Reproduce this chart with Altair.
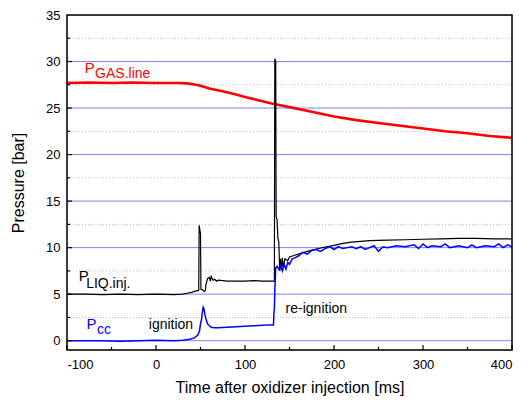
import altair as alt
import pandas as pd

# ---- data ----
gas_t = [-100, -75, -50, -25, 0, 25, 35, 45, 50, 60, 75, 90, 100, 115, 130, 150, 175, 200, 225, 250, 275, 300, 325, 350, 375, 400]
gas_v = [27.7, 27.75, 27.7, 27.75, 27.7, 27.7, 27.65, 27.5, 27.4, 27.1, 26.8, 26.45, 26.2, 25.85, 25.5, 25.1, 24.6, 24.1, 23.7, 23.4, 23.1, 22.8, 22.5, 22.3, 22.0, 21.8]

liq_t = [-100, -80, -60, -40, -20, 0, 20, 30, 35, 40, 45, 48, 48.5, 50, 50.5, 52, 54, 55.5, 56, 58, 60, 61, 62, 64, 66, 68, 70, 80, 90, 100, 110, 120, 132, 133, 133.5, 134.5, 135, 136, 137, 138, 139, 140, 141, 142, 143, 145, 148, 150, 155, 160, 170, 180, 190, 200, 210, 220, 240, 260, 280, 300, 320, 340, 360, 380, 400]
liq_v = [5.0, 5.0, 4.95, 5.0, 4.95, 5.0, 4.95, 5.0, 5.1, 5.2, 5.35, 5.4, 12.4, 11.5, 5.5, 5.5, 5.3, 5.4, 6.0, 6.7, 6.8, 6.4, 6.9, 6.5, 6.6, 6.4, 6.5, 6.4, 6.4, 6.4, 6.45, 6.4, 6.4, 6.4, 30.3, 30.0, 13.3, 13.0, 11.0, 10.6, 7.5, 8.8, 7.6, 8.9, 7.9, 8.8, 8.6, 9.0, 9.15, 9.3, 9.6, 9.85, 10.05, 10.25, 10.45, 10.6, 10.75, 10.8, 10.85, 10.9, 10.95, 11.0, 11.0, 10.95, 10.95]

cc_t = [-100, -80, -60, -40, -20, 0, 20, 30, 38, 43, 47, 49, 50, 51, 52, 53, 54, 55, 56, 57, 58, 60, 62, 65, 70, 80, 90, 100, 110, 120, 130, 132, 132.5, 133, 133.5, 134, 134.5, 136, 138, 140, 142, 144, 146, 148, 150, 153, 156, 160, 165, 170, 175, 180, 185, 190, 195, 200, 205, 210, 215, 220, 225, 230, 235, 240, 245, 250, 255, 260, 270, 280, 290, 295, 300, 305, 310, 320, 325, 330, 340, 350, 355, 360, 370, 380, 385, 390, 395, 400]
cc_v = [0.0, 0.0, 0.0, -0.05, 0.0, 0.05, 0.0, 0.05, 0.15, 0.3, 0.6, 1.1, 1.8, 2.2, 3.0, 3.6, 3.4, 2.8, 2.4, 2.1, 1.8, 1.6, 1.45, 1.4, 1.4, 1.45, 1.5, 1.55, 1.6, 1.65, 1.7, 1.7, 3.0, 3.3, 5.5, 6.5, 7.8, 8.0, 7.7, 8.1, 7.5, 8.2, 7.7, 8.4, 8.2, 8.8, 8.9, 9.1, 9.5, 9.3, 9.7, 9.8, 9.6, 9.9, 10.1, 9.8, 10.1, 9.9, 10.0, 10.1, 9.9, 10.1, 9.8, 10.0, 10.2, 9.6, 10.1, 10.0, 10.2, 10.1, 10.3, 9.9, 10.4, 10.0, 10.2, 10.1, 10.4, 10.0, 10.2, 10.0, 10.3, 10.0, 10.2, 10.1, 10.4, 10.0, 10.3, 10.1]

label_y = [0, 5, 10, 15, 20, 25, 30, 35]
major_y = [0, 5, 10, 15, 20, 25, 30]
minor_y = [2.5, 7.5, 12.5, 17.5, 22.5, 27.5, 32.5]
major_x = [-100, 0, 100, 200, 300, 400]
minor_x = [-50, 50, 150, 250, 350]

# annotations: x, y (baseline), text, size, colour
ann_x = [-80.1, -68.4, -86.8, -78.5, -78.2, -66.4, -8.1, 145.6]
ann_y = [28.76, 28.2, 6.45, 5.66, 1.25, 0.71, 1.25, 2.93]
ann_text = ["P", "GAS.line", "P", "LIQ.inj.", "P", "cc", "ignition", "re-ignition"]
ann_size = [15, 14, 15, 14, 15, 14, 14, 14]
ann_color = ["#ff0000", "#ff0000", "#000000", "#000000", "#0000ff", "#0000ff", "#000000", "#000000"]

# ---- build tables ----
def series(t, v):
    return pd.DataFrame({"t": t, "v": v, "i": range(len(t))})

gas = series(gas_t, gas_v)
liq = series(liq_t, liq_v)
cc = series(cc_t, cc_v)
ann = pd.DataFrame({"x": ann_x, "y": ann_y, "text": ann_text, "size": ann_size, "color": ann_color})

W, H = 445, 335
xs = alt.Scale(domain=[-100, 400], nice=False, zero=False)
ys = alt.Scale(domain=[-1, 35], nice=False, zero=False)

x_axis = alt.Axis(values=major_x, grid=False, ticks=False, domain=False, labelFontSize=13,
                  labelPadding=8, title="Time after oxidizer injection [ms]", titleFontSize=16,
                  titleFontWeight="normal", titlePadding=8, labelFont="Liberation Sans",
                  titleFont="Liberation Sans", labelColor="#000", titleColor="#000",
                  labelExpr="replace(datum.label, '\u2212', '-')")
y_axis = alt.Axis(values=label_y, grid=False, ticks=False, domain=False, labelFontSize=13,
                  labelPadding=7, title="Pressure [bar]", titleFontSize=16, titleFontWeight="normal",
                  titlePadding=19, labelFont="Liberation Sans", titleFont="Liberation Sans",
                  labelColor="#000", titleColor="#000")

grid_major = alt.Chart(pd.DataFrame({"y": major_y})).mark_rule(color="#8080ff", strokeWidth=1).encode(
    y=alt.Y("y:Q", scale=ys, axis=y_axis))
grid_minor = alt.Chart(pd.DataFrame({"y": minor_y})).mark_rule(color="#b8b8b8", strokeWidth=1, strokeDash=[1, 2]).encode(
    y=alt.Y("y:Q", scale=ys))

tick_y_major = alt.Chart(pd.DataFrame({"y": major_y})).mark_rule(color="#000", strokeWidth=1.2).encode(
    y=alt.Y("y:Q", scale=ys), x=alt.value(0), x2=alt.value(5))
tick_y_minor = alt.Chart(pd.DataFrame({"y": minor_y})).mark_rule(color="#000", strokeWidth=1.2).encode(
    y=alt.Y("y:Q", scale=ys), x=alt.value(0), x2=alt.value(3))
tick_x_major = alt.Chart(pd.DataFrame({"x": major_x})).mark_rule(color="#000", strokeWidth=1.2).encode(
    x=alt.X("x:Q", scale=xs, axis=x_axis), y=alt.value(H), y2=alt.value(H - 5))
tick_x_minor = alt.Chart(pd.DataFrame({"x": minor_x})).mark_rule(color="#000", strokeWidth=1.2).encode(
    x=alt.X("x:Q", scale=xs), y=alt.value(H), y2=alt.value(H - 3))

frame = alt.Chart(pd.DataFrame({"a": [0]})).mark_rect(fill=None, fillOpacity=0, stroke="#000", strokeWidth=1.5).encode(
    x=alt.value(0), x2=alt.value(W), y=alt.value(0), y2=alt.value(H))

def line(df, color, sw):
    return alt.Chart(df).mark_line(color=color, strokeWidth=sw, strokeJoin="miter", clip=True).encode(
        x=alt.X("t:Q", scale=xs), y=alt.Y("v:Q", scale=ys), order="i:Q")

gas_line = line(gas, "#ff0000", 2.6)
liq_line = line(liq, "#000000", 1.2)
cc_line = line(cc, "#0000ff", 1.5)

texts = alt.Chart(ann).mark_text(align="left", baseline="alphabetic", font="Liberation Sans").encode(
    x=alt.X("x:Q", scale=xs), y=alt.Y("y:Q", scale=ys),
    text="text:N", size=alt.Size("size:Q", scale=None, legend=None),
    color=alt.Color("color:N", scale=None, legend=None))

chart = alt.layer(
    grid_minor, grid_major, gas_line, liq_line, cc_line,
    tick_y_major, tick_y_minor, tick_x_major, tick_x_minor, frame, texts
).properties(
    width=W, height=H, autosize=alt.AutoSizeParams(type="none"),
    padding={"left": 59, "top": 7, "right": 10, "bottom": 55}
).configure_view(stroke=None).configure(background="white")

chart.save("out.html", embed_options={"renderer": "svg", "actions": False})
